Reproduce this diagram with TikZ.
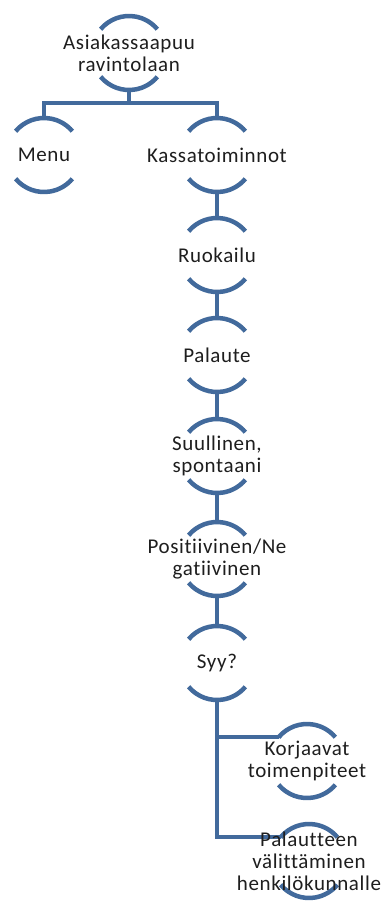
\documentclass[tikz,border=0pt]{standalone}
\usepackage{fontspec}
\setmainfont{Carlito}[Ligatures=NoCommon, LetterSpace=3]
\usetikzlibrary{backgrounds}
\definecolor{lineblue}{RGB}{66,106,156}
\definecolor{txt}{RGB}{30,30,30}
\newcommand\ringarcs[1]{%
  \draw[arcline] ([shift={(140:37)}]#1.center) arc[start angle=140,end angle=40,radius=37];
  \draw[arcline] ([shift={(220:37)}]#1.center) arc[start angle=220,end angle=320,radius=37];}
\begin{document}
\begin{tikzpicture}[x=1pt,y=1pt,
  item/.style={rectangle, minimum height=74pt, inner sep=0pt, align=center,
    font=\fontsize{21}{22}\selectfont, text=txt},
  arcline/.style={draw=lineblue, line width=4.5pt},
  conn/.style={draw=lineblue, line width=4pt}]
\path[use as bounding box] (0,0) rectangle (382,-902);

\node[item] (top)   at (129,-53)  {Asiakassaapuu\\ravintolaan};
\node[item] (menu)  at (44,-155)  {Menu};
\node[item] (kassa) at (217,-155) {Kassatoiminnot};
\node[item] (ruok)  at (217,-255) {Ruokailu};
\node[item] (pal)   at (217,-355) {Palaute};
\node[item] (suul)  at (217,-456) {Suullinen,\\spontaani};
\node[item] (pos)   at (217,-559) {Positiivinen/Ne\\gatiivinen};
\node[item] (syy)   at (217,-663) {Syy?};
\node[item] (korj)  at (307,-761) {Korjaavat\\toimenpiteet};
\node[item] (valit) at (309,-861) {Palautteen\\välittäminen\\henkilökunnalle};

\begin{scope}[on background layer]
\fill[white] (0,0) rectangle (382,-902);
\foreach \n in {top,menu,kassa,ruok,pal,suul,pos,syy,korj,valit}{\ringarcs{\n}}
\draw[conn] (top.south) -- ++(0,-13) coordinate (bar);
\draw[conn] (bar) -| (menu.north);
\draw[conn] (bar) -| (kassa.north);
\draw[conn] (kassa.south) -- (ruok.north);
\draw[conn] (ruok.south) -- (pal.north);
\draw[conn] (pal.south) -- (suul.north);
\draw[conn] (suul.south) -- (pos.north);
\draw[conn] (pos.south) -- (syy.north);
\coordinate (kj) at ([shift={(140:37)}]korj.center);
\coordinate (vj) at ([shift={(140:37)}]valit.center);
\draw[conn] (syy.south) |- (kj);
\draw[conn] (syy.south) |- (vj);
\end{scope}
\end{tikzpicture}
\end{document}
